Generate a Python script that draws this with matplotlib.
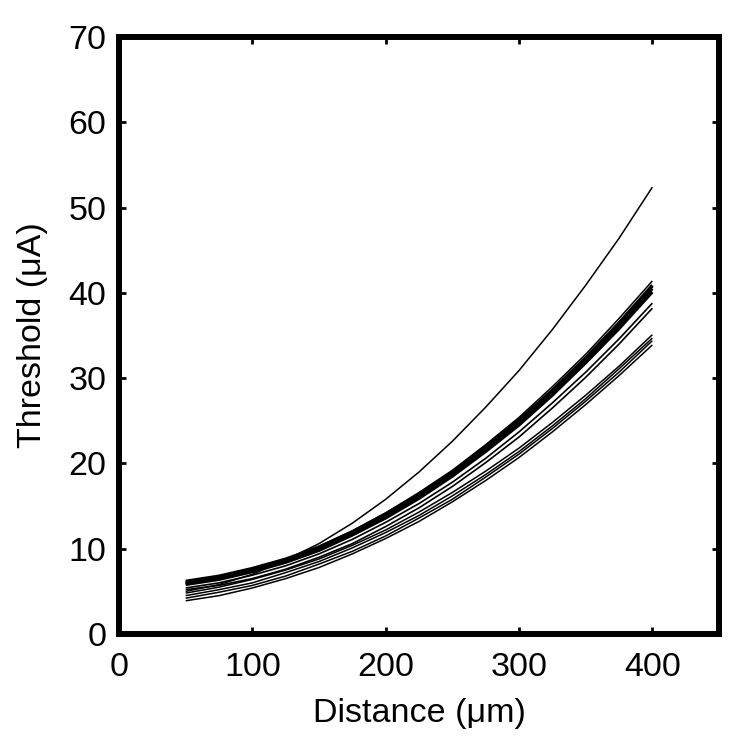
import matplotlib
matplotlib.use("Agg")
import matplotlib.pyplot as plt

plt.rcParams['font.family'] = ['Liberation Sans', 'DejaVu Sans']

# Distance (um) at which each threshold curve was read
distance = [50, 75, 100, 125, 150, 175, 200, 225, 250, 275, 300, 325, 350, 375, 400]

# Threshold (uA) curves
c1 = [5.0, 5.8, 7.0, 8.7, 10.6, 13.0, 15.8, 19.0, 22.6, 26.6, 30.9, 35.7, 40.9, 46.4, 52.4]
c2 = [6.1, 6.8, 7.7, 8.8, 10.3, 12.1, 14.2, 16.6, 19.2, 22.2, 25.4, 29.0, 32.8, 37.0, 41.4]
c3 = [6.0, 6.6, 7.5, 8.6, 10.1, 11.9, 13.9, 16.2, 18.9, 21.8, 24.9, 28.5, 32.3, 36.4, 40.8]
c4 = [5.9, 6.5, 7.4, 8.5, 9.9, 11.7, 13.8, 16.1, 18.7, 21.6, 24.7, 28.2, 32.0, 36.1, 40.5]
c5 = [6.2, 6.8, 7.7, 8.8, 10.2, 12.0, 14.1, 16.4, 19.0, 22.0, 25.1, 28.6, 32.4, 36.5, 40.9]
c6 = [5.8, 6.4, 7.3, 8.4, 9.8, 11.6, 13.6, 15.9, 18.5, 21.4, 24.5, 28.0, 31.8, 35.8, 40.1]
c7 = [5.4, 6.0, 6.9, 8.0, 9.4, 11.1, 13.1, 15.3, 17.8, 20.6, 23.7, 27.1, 30.7, 34.6, 38.8]
c8 = [5.2, 5.7, 6.5, 7.6, 9.0, 10.6, 12.6, 14.8, 17.3, 20.1, 23.1, 26.5, 30.1, 34.0, 38.2]
c9 = [4.8, 5.5, 6.4, 7.5, 8.8, 10.4, 12.2, 14.3, 16.6, 19.1, 21.8, 24.8, 28.0, 31.4, 35.1]
c10 = [4.5, 5.2, 6.0, 7.2, 8.5, 10.1, 11.9, 13.9, 16.2, 18.7, 21.4, 24.4, 27.6, 31.1, 34.7]
c11 = [4.2, 4.9, 5.7, 6.8, 8.2, 9.7, 11.5, 13.6, 15.8, 18.4, 21.1, 24.1, 27.3, 30.7, 34.4]
c12 = [3.9, 4.5, 5.4, 6.5, 7.8, 9.4, 11.2, 13.2, 15.5, 18.0, 20.7, 23.7, 26.9, 30.3, 33.9]

curves = [c1, c2, c3, c4, c5, c6, c7, c8, c9, c10, c11, c12]
widths = [1.1, 1.1, 2.2, 2.2, 2.2, 2.2, 1.2, 1.2, 1.1, 1.1, 1.1, 1.1]

x_ticks = [0, 100, 200, 300, 400]
y_ticks = [0, 10, 20, 30, 40, 50, 60, 70]

fig = plt.figure(figsize=(7.5, 7.53), dpi=100)
ax = fig.add_axes([0.1587, 0.158, 0.8, 0.7928])

for c, w in zip(curves, widths):
    ax.plot(distance, c, color='black', lw=w, solid_capstyle='butt')

ax.set_xlim(0, 450)
ax.set_ylim(0, 70)
ax.set_xticks(x_ticks)
ax.set_yticks(y_ticks)
ax.tick_params(direction='in', length=5, width=2, labelsize=24.5,
               top=True, right=True, labeltop=False, labelright=False)
ax.tick_params(axis='x', pad=13)
ax.tick_params(axis='y', pad=9)
for s in ax.spines.values():
    s.set_linewidth(4.3)

ax.set_xlabel('Distance (μm)', fontsize=24.5, labelpad=11)
ax.set_ylabel('Threshold (μA)', fontsize=24.5, labelpad=15)

fig.savefig('out.png', dpi=100, facecolor='white')
